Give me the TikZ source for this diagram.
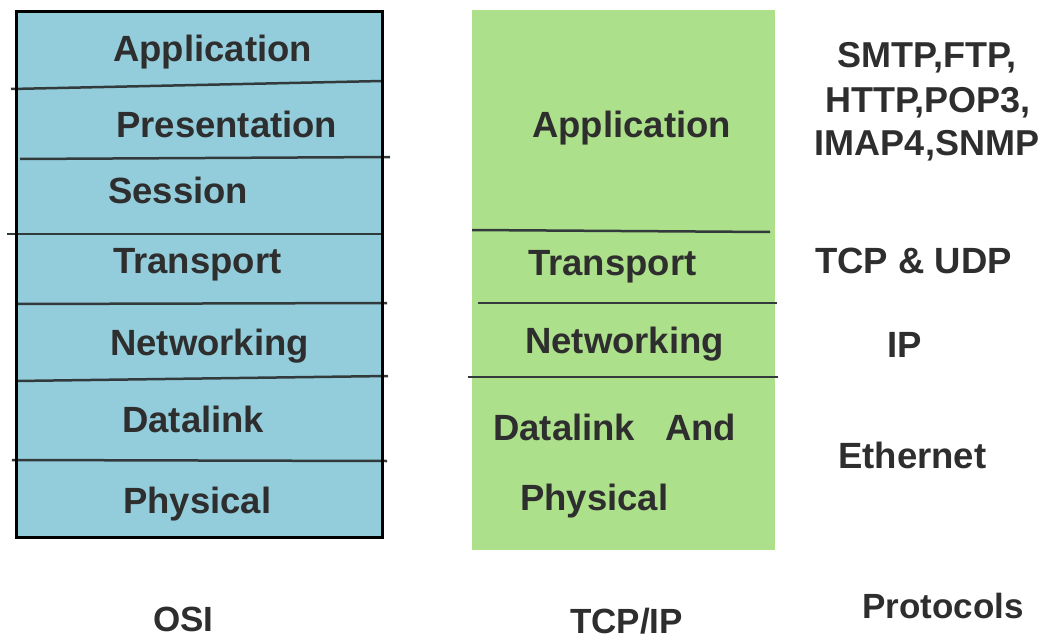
\documentclass[tikz,border=0pt]{standalone}
\usepackage{fontspec}
\setmainfont{Liberation Sans}
\definecolor{osiblue}{HTML}{93CDDC}
\definecolor{tcpgreen}{HTML}{ADE08B}
\definecolor{inkgray}{HTML}{2E2E2E}
\definecolor{sepline}{HTML}{333A3C}
\begin{document}
\begin{tikzpicture}[x=1pt,y=-1pt,
  lbl/.style={anchor=base west,inner sep=0pt,text=inkgray,font=\fontsize{36.5}{40}\selectfont\bfseries},
  proto/.style={anchor=base,inner sep=0pt,text=inkgray,font=\fontsize{36}{44}\selectfont\bfseries,align=center},
  capt/.style={anchor=base west,inner sep=0pt,text=inkgray,font=\fontsize{35}{40}\selectfont\bfseries},
  sep/.style={draw=sepline,line width=2.5pt}]
\useasboundingbox (0,0) rectangle (1050,642);
% OSI stack
\fill[osiblue] (16,12) rectangle (382,537);
\draw[sep] (11,89) -- (382,81);
\draw[sep] (20,159) -- (390,157);
\draw[sep] (7,234) -- (382,234);
\draw[sep] (16,304) -- (387,303);
\draw[sep] (16,381) -- (388,376);
\draw[sep] (12,460) -- (387,461);
\draw[black,line width=3pt] (16,12) rectangle (382,537);
\node[lbl] (o7) at (113,62) {Application};
\node[lbl] (o6) at (116,137) {Presentation};
\node[lbl] (o5) at (108,203) {Session};
\node[lbl] (o4) at (113,273) {Transport};
\node[lbl] (o3) at (110,355) {Networking};
\node[lbl] (o2) at (122,432) {Datalink};
\node[lbl] (o1) at (123,513) {Physical};
% TCP/IP stack
\fill[tcpgreen] (472,10) rectangle (775,550);
\draw[sep] (472,230) -- (770,232);
\draw[sep] (478,303) -- (777,303);
\draw[sep] (468,377) -- (778,377);
\node[lbl] (t4) at (532,137) {Application};
\node[lbl] (t3) at (528,275) {Transport};
\node[lbl] (t2) at (525,353) {Networking};
\node[lbl] (t1a) at (493,440) {Datalink\hspace*{30pt}And};
\node[lbl] (t1b) at (520,510) {Physical};
% protocols
\node[proto] (p4a) at (927,67) {SMTP,FTP,};
\node[proto] (p4b) at (928,112) {HTTP,POP3,};
\node[proto] (p4c) at (927,155) {IMAP4,SNMP};
\node[lbl] (p3) at (815,273) {TCP \& UDP};
\node[lbl] (p2) at (887,357) {IP};
\node[lbl] (p1) at (838,468) {Ethernet};
% captions
\node[capt] (c1) at (153,631) {OSI};
\node[capt] (c2) at (570,633) {TCP/IP};
\node[capt] (c3) at (862,618) {Protocols};
\end{tikzpicture}
\end{document}
